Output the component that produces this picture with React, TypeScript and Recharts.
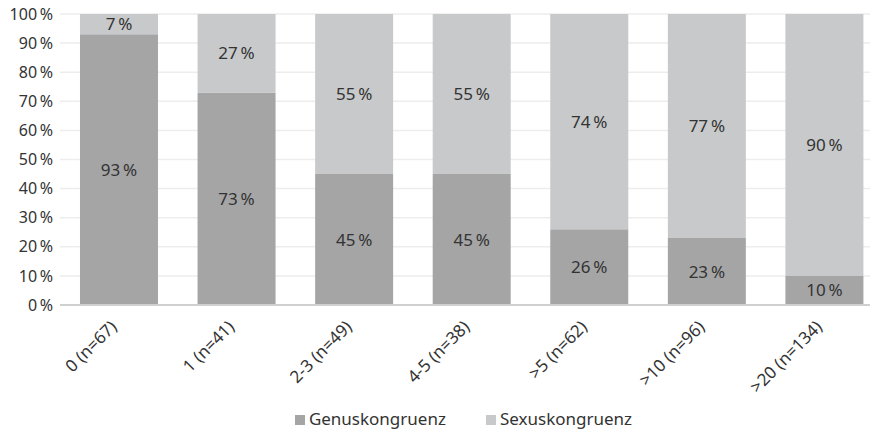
import { Bar, BarChart, CartesianGrid, LabelList, Legend, XAxis, YAxis } from "recharts";

const categories = ["0 (n=67)", "1 (n=41)", "2-3 (n=49)", "4-5 (n=38)", ">5 (n=62)", ">10 (n=96)", ">20 (n=134)"];
const genus = [93, 73, 45, 45, 26, 23, 10];
const sexus = [7, 27, 55, 55, 74, 77, 90];
const yTicks = [0, 10, 20, 30, 40, 50, 60, 70, 80, 90, 100];

const data = categories.map((name, i) => ({ name, genus: genus[i], sexus: sexus[i] }));

const FONT = "'Noto Sans', 'Open Sans', sans-serif";
const TEXT = "#333333";
const pct = (v: number) => `${v}\u2009%`;

function XTick({ x, y, payload }: any) {
  const ax = x - 1;
  const ay = y + 15;
  return (
    <text
      x={ax}
      y={ay}
      textAnchor="end"
      fill={TEXT}
      fontSize={17}
      fontFamily={FONT}
      transform={`rotate(-45, ${ax}, ${ay})`}
    >
      {payload.value}
    </text>
  );
}

export default function App() {
  return (
    <div style={{ margin: -8, width: 878, height: 437, background: "#fff" }}>
      <BarChart
        width={878}
        height={437}
        data={data}
        margin={{ top: 14, right: -5, bottom: 0, left: 0 }}
        barCategoryGap="17%"
      >
        <CartesianGrid vertical={false} stroke="#ededed" strokeWidth={1.5} />
        <XAxis
          dataKey="name"
          interval={0}
          height={102}
          tickLine={false}
          axisLine={{ stroke: "#d0d0d0", strokeWidth: 2 }}
          tick={<XTick />}
        />
        <YAxis
          width={60}
          domain={[0, 100]}
          ticks={yTicks}
          tickFormatter={pct}
          tickLine={false}
          axisLine={false}
          tickSize={0}
          tickMargin={7}
          tick={{ fill: TEXT, fontSize: 16, fontFamily: FONT }}
        />
        <Legend
          verticalAlign="bottom"
          height={30}
          iconType="square"
          iconSize={10}
          wrapperStyle={{
            fontFamily: FONT,
            fontSize: 17,
            top: 409,
            bottom: "auto",
            lineHeight: "20px",
            paddingLeft: 84,
            boxSizing: "border-box",
          }}
          formatter={(value) => <span style={{ color: TEXT, marginRight: 30 }}>{value}</span>}
        />
        <Bar dataKey="genus" name="Genuskongruenz" stackId="a" fill="#a5a5a6" isAnimationActive={false}>
          <LabelList dataKey="genus" position="center" formatter={(v: any) => pct(v)} fill={TEXT} fontSize={17} fontFamily={FONT} />
        </Bar>
        <Bar dataKey="sexus" name="Sexuskongruenz" stackId="a" fill="#c8c9ca" isAnimationActive={false}>
          <LabelList dataKey="sexus" position="center" formatter={(v: any) => pct(v)} fill={TEXT} fontSize={17} fontFamily={FONT} />
        </Bar>
      </BarChart>
    </div>
  );
}
